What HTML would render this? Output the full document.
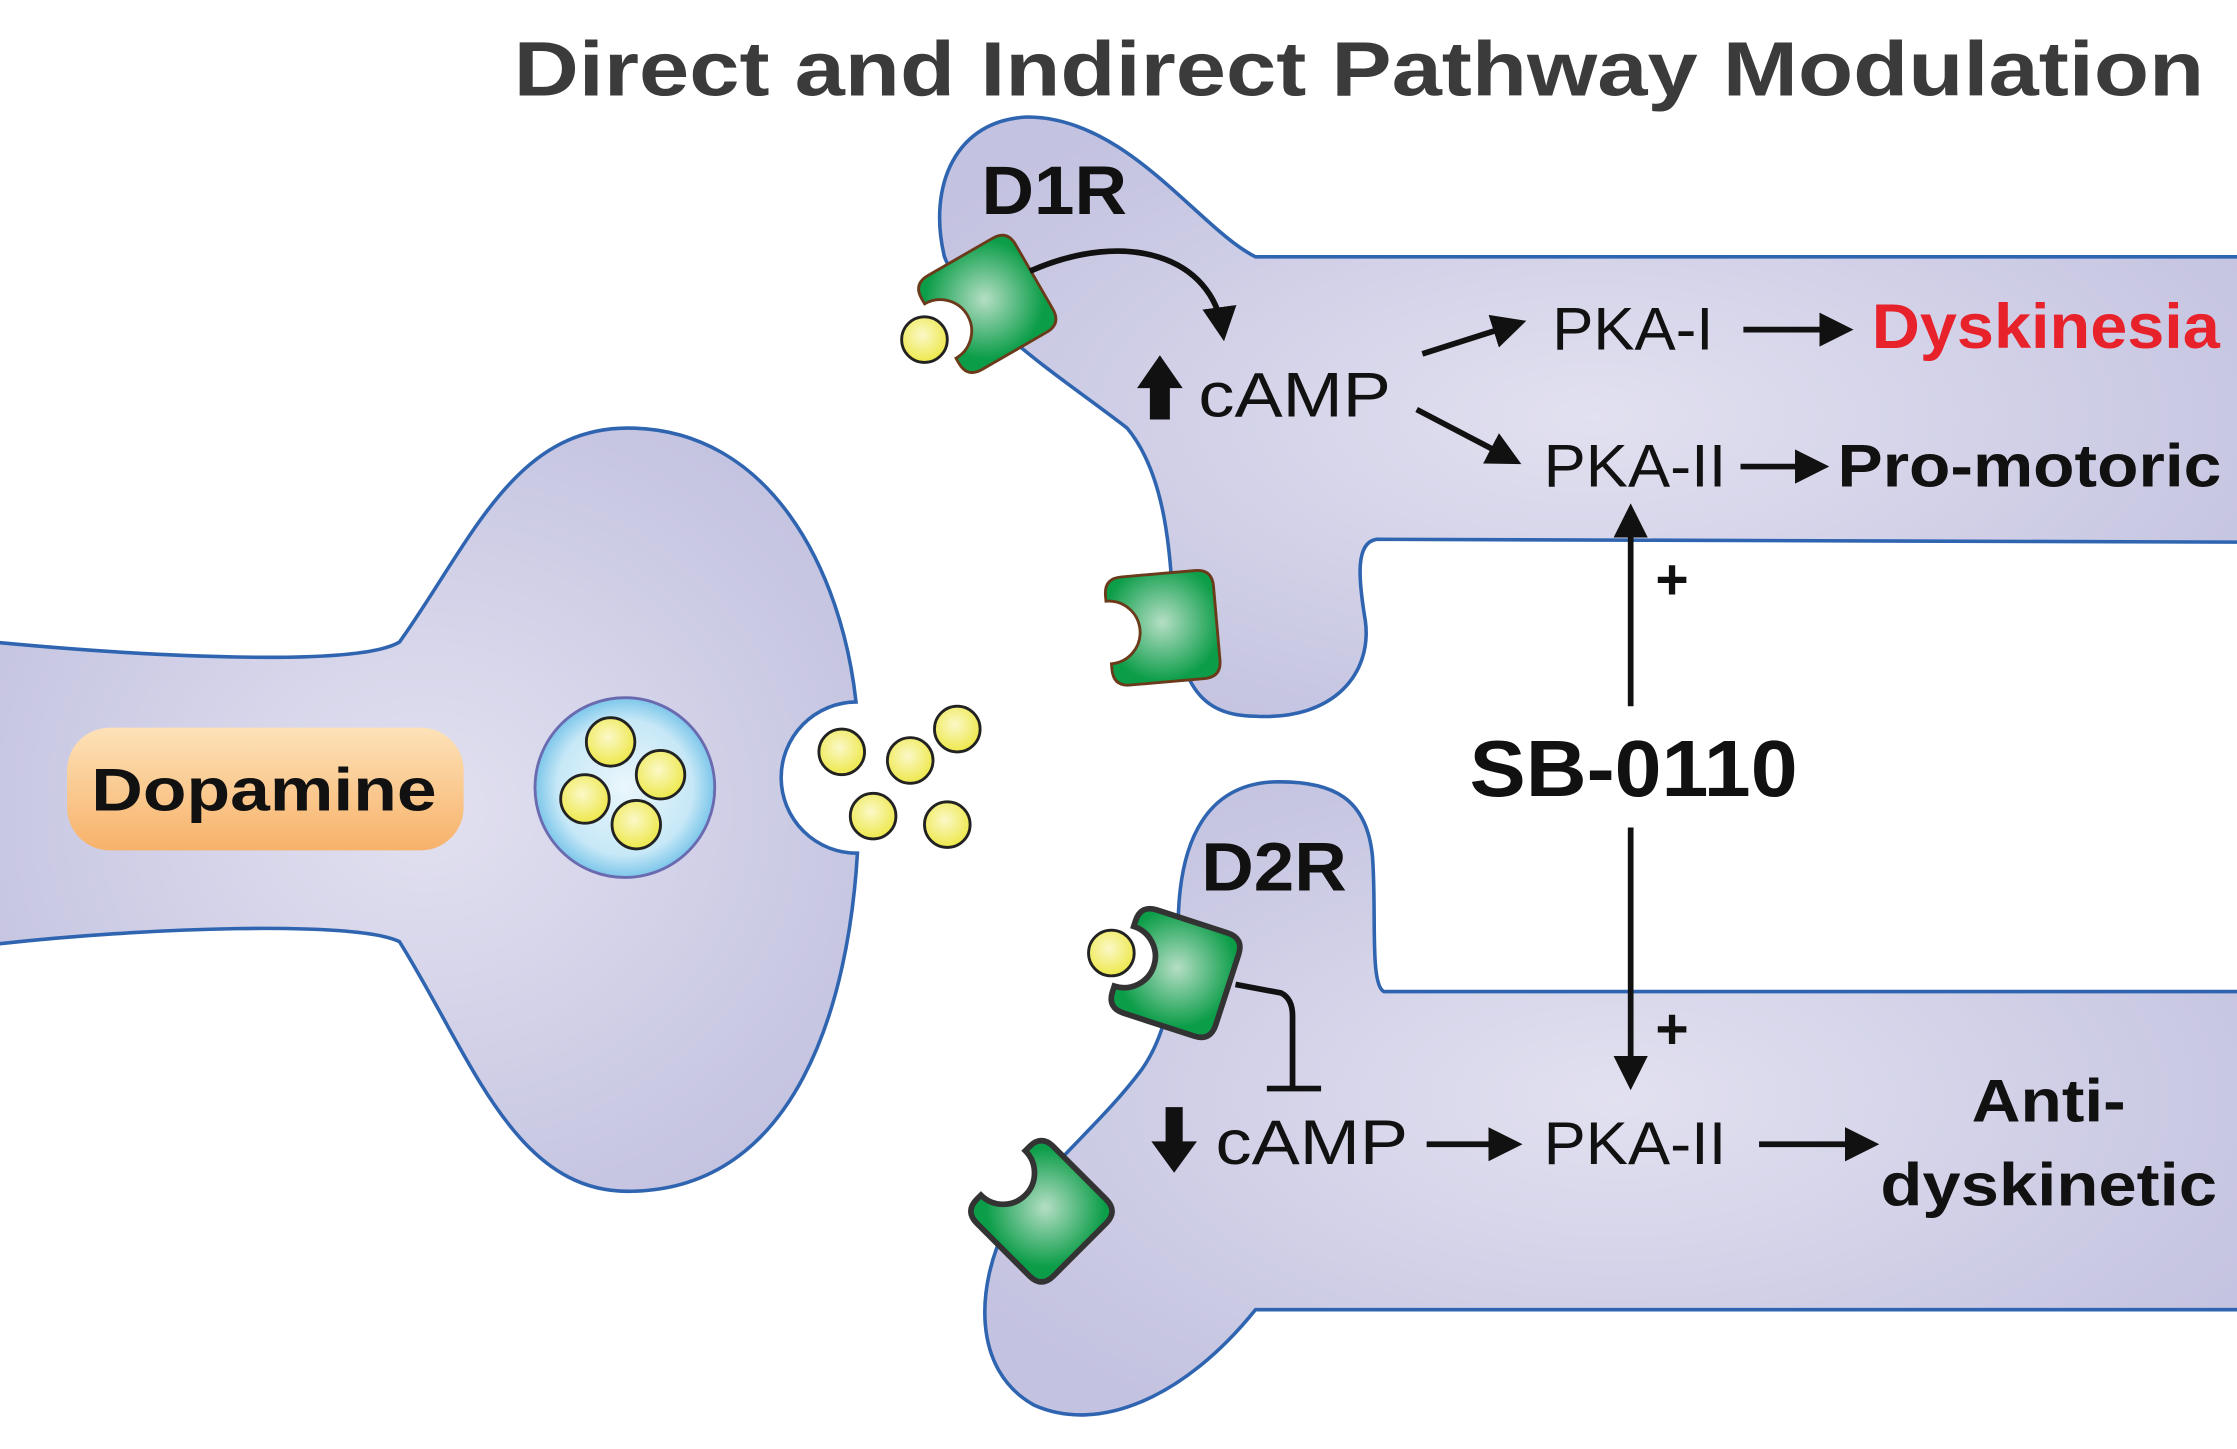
<!DOCTYPE html>
<html><head><meta charset="utf-8"><style>html,body{margin:0;padding:0;background:#fff}svg{display:block}</style></head>
<body>
<svg width="2237" height="1449" viewBox="0 0 1568 1015.6" xmlns="http://www.w3.org/2000/svg" font-family="Liberation Sans, sans-serif">
<defs>
<radialGradient id="cell" cx="0.5" cy="0.5" r="0.6"><stop offset="0" stop-color="#e2e1f0"/><stop offset="1" stop-color="#c3c2e0"/></radialGradient>
<radialGradient id="grn" cx="0.5" cy="0.45" r="0.55"><stop offset="0" stop-color="#b5dec5"/><stop offset="1" stop-color="#0b9d48"/></radialGradient>
<radialGradient id="yel" cx="0.45" cy="0.4" r="0.6"><stop offset="0" stop-color="#fbf8c8"/><stop offset="1" stop-color="#ede84a"/></radialGradient>
<radialGradient id="ves" cx="0.5" cy="0.5" r="0.5"><stop offset="0" stop-color="#eaf6fc"/><stop offset="0.75" stop-color="#c7e8f7"/><stop offset="1" stop-color="#7cc6ea"/></radialGradient>
<linearGradient id="dop" x1="0" y1="0" x2="0" y2="1"><stop offset="0" stop-color="#fde2b8"/><stop offset="1" stop-color="#f7b26a"/></linearGradient>
<marker id="ah" viewBox="0 0 10 10" refX="7" refY="5" markerWidth="6" markerHeight="6" orient="auto" markerUnits="strokeWidth"><path d="M0,0 L10,5 L0,10 Z" fill="#111"/></marker>
<path id="rec" d="M-38,-22 L-38,-26 Q-38,-38 -26,-38 L26,-38 Q38,-38 38,-26 L38,26 Q38,38 26,38 L-26,38 Q-38,38 -38,26 L-38,22 A22,22 0 0 0 -38,-22 Z"/>
</defs>

<text x="360" y="67" textLength="1185" lengthAdjust="spacingAndGlyphs" font-size="54" font-weight="bold" fill="#3b3b3b">Direct and Indirect Pathway Modulation</text>

<path d="M-5,450 C100,460 250,468 280,450 C330,380 360,300 440,300 C540,300 590,400 600,492 A50,50 0 0 0 601,598 C595,700 560,835 440,835 C360,835 330,740 280,660 C250,645 100,650 -5,662 Z" fill="url(#cell)" stroke="#2f64b0" stroke-width="2.5"/>
<rect x="47" y="510" width="278" height="86" rx="30" fill="url(#dop)"/>
<text x="64" y="568" textLength="242" lengthAdjust="spacingAndGlyphs" font-size="42" font-weight="bold" fill="#111">Dopamine</text>
<circle cx="438" cy="552" r="63" fill="url(#ves)" stroke="#6a6ab0" stroke-width="2"/>
<g fill="url(#yel)" stroke="#222" stroke-width="2">
<circle cx="428" cy="520" r="17"/><circle cx="463" cy="543" r="17"/><circle cx="410" cy="560" r="17"/><circle cx="446" cy="578" r="17"/>
<circle cx="590" cy="527" r="16"/><circle cx="638" cy="533" r="16"/><circle cx="671" cy="511" r="16"/><circle cx="612" cy="572" r="16"/><circle cx="664" cy="578" r="16"/>
</g>

<path d="M1575,180 L880,180 C840,160 790,82 720,82 C670,84 650,130 662,180 C680,225 745,265 790,300 C815,330 820,380 822,420 C826,470 835,502 880,502 C935,505 962,472 957,435 C952,405 950,380 965,378 L1575,380 Z" fill="url(#cell)" stroke="#2f64b0" stroke-width="2.5"/>
<path d="M1575,695 L970,695 C960,690 965,640 962,600 C958,560 935,547 893,548 C845,550 828,590 826,640 C824,690 818,725 800,750 C770,790 730,820 705,860 C685,900 680,960 725,985 C770,1005 830,980 880,918 L1575,918 Z" fill="url(#cell)" stroke="#2f64b0" stroke-width="2.5"/>

<g transform="translate(692,213) rotate(-30)"><use href="#rec" fill="url(#grn)" stroke="#6b3a1a" stroke-width="2"/></g>
<circle cx="648" cy="238" r="16" fill="url(#yel)" stroke="#222" stroke-width="2"/>
<g transform="translate(815,440) rotate(-5)"><use href="#rec" fill="url(#grn)" stroke="#6b3a1a" stroke-width="2"/></g>
<g transform="translate(824,682) rotate(18)"><use href="#rec" fill="url(#grn)" stroke="#333" stroke-width="4"/></g>
<circle cx="779" cy="668" r="16" fill="url(#yel)" stroke="#222" stroke-width="2"/>
<g transform="translate(730,849) rotate(45)"><use href="#rec" fill="url(#grn)" stroke="#333" stroke-width="4"/></g>

<text x="688" y="150" textLength="102" lengthAdjust="spacingAndGlyphs" font-size="48" font-weight="bold" fill="#111">D1R</text>
<text x="842" y="624" textLength="102" lengthAdjust="spacingAndGlyphs" font-size="48" font-weight="bold" fill="#111">D2R</text>

<path d="M722,190 C790,160 850,180 857,232" fill="none" stroke="#111" stroke-width="4" marker-end="url(#ah)"/>
<path d="M806,294 L806,272 L797,272 L813,249 L829,272 L820,272 L820,294 Z" fill="#111"/>
<text x="840" y="292" textLength="135" lengthAdjust="spacingAndGlyphs" font-size="44" fill="#111">cAMP</text>
<line x1="997" y1="248" x2="1063" y2="227" stroke="#111" stroke-width="4" marker-end="url(#ah)"/>
<line x1="993" y1="287" x2="1060" y2="322" stroke="#111" stroke-width="4" marker-end="url(#ah)"/>
<text x="1088" y="245" textLength="113" lengthAdjust="spacingAndGlyphs" font-size="42" fill="#111">PKA-I</text>
<line x1="1222" y1="231" x2="1292" y2="231" stroke="#111" stroke-width="4" marker-end="url(#ah)"/>
<text x="1312" y="244" textLength="244" lengthAdjust="spacingAndGlyphs" font-size="44" font-weight="bold" fill="#e8222a">Dyskinesia</text>
<text x="1082" y="341" textLength="128" lengthAdjust="spacingAndGlyphs" font-size="42" fill="#111">PKA-II</text>
<line x1="1220" y1="327" x2="1275" y2="327" stroke="#111" stroke-width="4" marker-end="url(#ah)"/>
<text x="1288" y="341" textLength="269" lengthAdjust="spacingAndGlyphs" font-size="42" font-weight="bold" fill="#111">Pro-motoric</text>

<line x1="1143" y1="495" x2="1143" y2="360" stroke="#111" stroke-width="4" marker-end="url(#ah)"/>
<text x="1172" y="420" text-anchor="middle" font-size="40" font-weight="bold" fill="#111">+</text>
<text x="1030" y="558" textLength="230" lengthAdjust="spacingAndGlyphs" font-size="56" font-weight="bold" fill="#111">SB-0110</text>
<line x1="1143" y1="580" x2="1143" y2="757" stroke="#111" stroke-width="4" marker-end="url(#ah)"/>
<text x="1172" y="735" text-anchor="middle" font-size="40" font-weight="bold" fill="#111">+</text>

<path d="M866,690 L898,696 Q906,700 906,712 L906,762" fill="none" stroke="#111" stroke-width="4"/>
<line x1="888" y1="763" x2="926" y2="763" stroke="#111" stroke-width="4"/>
<path d="M817,776 L817,800 L807,800 L823,822 L839,800 L829,800 L829,776 Z" fill="#111"/>
<text x="852" y="816" textLength="135" lengthAdjust="spacingAndGlyphs" font-size="44" fill="#111">cAMP</text>
<line x1="1000" y1="802" x2="1060" y2="802" stroke="#111" stroke-width="4" marker-end="url(#ah)"/>
<text x="1082" y="816" textLength="128" lengthAdjust="spacingAndGlyphs" font-size="42" fill="#111">PKA-II</text>
<line x1="1233" y1="802" x2="1310" y2="802" stroke="#111" stroke-width="4" marker-end="url(#ah)"/>
<text x="1382" y="786" textLength="108" lengthAdjust="spacingAndGlyphs" font-size="42" font-weight="bold" fill="#111">Anti-</text>
<text x="1318" y="845" textLength="236" lengthAdjust="spacingAndGlyphs" font-size="42" font-weight="bold" fill="#111">dyskinetic</text>
</svg>
</body></html>
